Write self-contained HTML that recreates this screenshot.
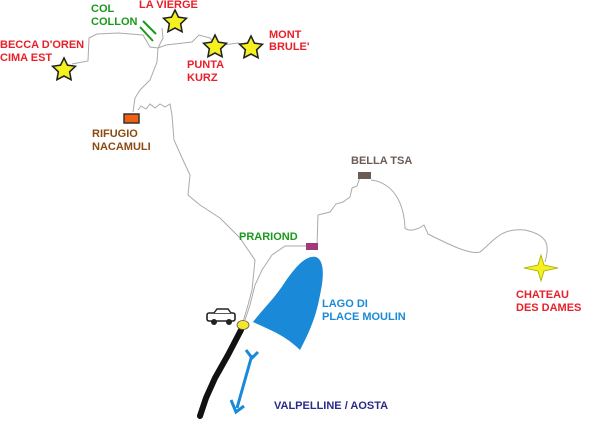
<!DOCTYPE html>
<html><head><style>
body{margin:0;background:#fff}
svg text{font-family:"Liberation Sans","DejaVu Sans",sans-serif;font-weight:bold;font-size:11px}
</style></head><body>
<svg width="600" height="420" viewBox="0 0 600 420" xmlns="http://www.w3.org/2000/svg">
<g fill="none" stroke="#aaa" stroke-width="1">
<path d="M72,64 L88,61 L89,38 L97,34 L118,33 L143,35 L150,47 L158,48 L166,45 L192,42 L199,35 L210,38 L215,45 L223,45 L238,43 L250,46"/>
<path d="M162,28 L163,38 L158,48 L157,62 L150,80 L140,90 L135,98 L133,112"/>
<path d="M138,110 L141,106 L146,109 L150,104 L155,108 L160,104 L165,107 L170,104 L172,115 L174,140 L183,160 L190,175 L188,195 L200,205 L220,218 L240,238 L255,260 L252,290 L248,305 L243,322"/>
<path d="M312,246 L285,246 L272,255 L262,270 L255,285 L250,305 L245,320"/>
<path d="M317,246 L318,215 L330,212 L336,204 L343,202 L350,197 L352,188 L357,186 L360,177"/>
<path d="M371,180 C395,183 404,205 405,228 C410,233 420,228 424,225 L428,234 C450,245 470,255 480,252 C495,240 500,228 525,230 C548,235 550,245 545,262"/>
</g>
<path d="M241,330 L228,355 L215,378 L206,398 L200,416" stroke="#111" stroke-width="6" fill="none" stroke-linecap="round"/>
<path d="M316,257 C324,260 324,275 321,290 C318,305 316,320 300,350 C285,335 270,330 253,322 C262,310 275,298 285,282 C295,268 305,255 316,257Z" fill="#1a8ad8"/>
<ellipse cx="243" cy="325" rx="6" ry="4.5" fill="#f5e62a" stroke="#555" stroke-width="0.8"/>
<g transform="translate(206,309)"><rect x="1" y="4" width="28" height="8" rx="2" fill="#fff" stroke="#222" stroke-width="1.6"/><path d="M8,4 L11,0 L22,0 L25,4" fill="#fff" stroke="#222" stroke-width="1.4"/><circle cx="8" cy="13" r="3" fill="#222"/><circle cx="23" cy="13" r="3" fill="#222"/></g>
<g stroke="#1a8ad8" stroke-width="3" fill="none"><path d="M252,355 L237,408"/><path d="M246,350 L252,358 L258,352 M231,400 L236,412 L244,406"/></g>
<g stroke="#1a9a1a" stroke-width="2"><line x1="143" y1="21" x2="156" y2="34"/><line x1="140" y1="27" x2="153" y2="41"/></g>
<rect x="124" y="114" width="15" height="9" fill="#f06010" stroke="#333" stroke-width="1.5"/>
<rect x="306" y="243" width="12" height="7" fill="#a03a78"/>
<rect x="358" y="172" width="13" height="7" fill="#6a5c55"/>
<g fill="#f5f020" stroke="#222" stroke-width="1.3">
<polygon transform="translate(64,70) scale(1.2)" points="0,-10 2.9,-4 9.5,-3.1 4.7,1.5 5.9,8.1 0,5 -5.9,8.1 -4.7,1.5 -9.5,-3.1 -2.9,-4"/>
<polygon transform="translate(175,22) scale(1.2)" points="0,-10 2.9,-4 9.5,-3.1 4.7,1.5 5.9,8.1 0,5 -5.9,8.1 -4.7,1.5 -9.5,-3.1 -2.9,-4"/>
<polygon transform="translate(215,47) scale(1.2)" points="0,-10 2.9,-4 9.5,-3.1 4.7,1.5 5.9,8.1 0,5 -5.9,8.1 -4.7,1.5 -9.5,-3.1 -2.9,-4"/>
<polygon transform="translate(251,48) scale(1.2)" points="0,-10 2.9,-4 9.5,-3.1 4.7,1.5 5.9,8.1 0,5 -5.9,8.1 -4.7,1.5 -9.5,-3.1 -2.9,-4"/>
<polygon transform="translate(541,268)" points="0,-13 3,-3 17,0 3,3 0,13 -3,3 -17,0 -3,-3" stroke-width="0.8" stroke="#aa0"/>
</g>
<g fill="#e8202a">
<text x="0" y="48">BECCA D'OREN</text><text x="0" y="61">CIMA EST</text>
<text x="139" y="8">LA VIERGE</text>
<text x="269" y="38">MONT</text><text x="269" y="50">BRULE'</text>
<text x="187" y="68">PUNTA</text><text x="187" y="81">KURZ</text>
<text x="516" y="298">CHATEAU</text><text x="516" y="311">DES DAMES</text>
</g>
<g fill="#1a9a1a"><text x="91" y="12">COL</text><text x="91" y="25">COLLON</text><text x="239" y="240">PRARIOND</text></g>
<g fill="#8a4a10"><text x="92" y="137">RIFUGIO</text><text x="92" y="150">NACAMULI</text></g>
<text x="351" y="164" fill="#6a5c55">BELLA TSA</text>
<g fill="#1a8ad8"><text x="322" y="307">LAGO DI</text><text x="322" y="320">PLACE MOULIN</text></g>
<text x="274" y="409" fill="#2a2a8a">VALPELLINE / AOSTA</text>
</svg>
</body></html>
